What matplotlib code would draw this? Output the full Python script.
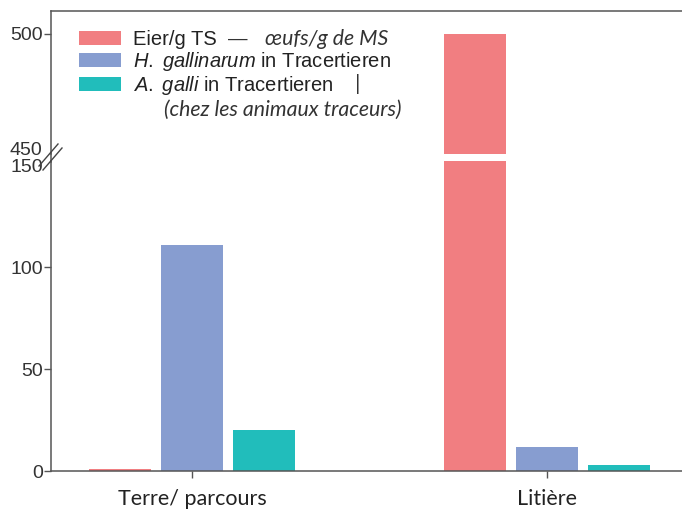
import numpy as np
import matplotlib
matplotlib.use("Agg")
import matplotlib.pyplot as plt
from matplotlib.patches import Patch
from matplotlib.lines import Line2D

plt.rcParams.update({
    "font.family": ["Liberation Sans", "DejaVu Sans"],
    "mathtext.fontset": "custom",
    "mathtext.rm": "Liberation Sans",
    "mathtext.it": "Liberation Sans:italic",
})

# data
categories = ["Terre/ parcours", "Litière"]
eier = [1, 500]
h_gallinarum = [111, 12]
a_galli = [20, 3]
series_labels = ["Eier/g TS",
                 r"$\it{H.\ gallinarum}$ in Tracertieren",
                 r"$\it{A.\ galli}$ in Tracertieren"]
colors = ["#F17E81", "#879DD0", "#21BDBB"]

W, H = 682, 513
fig = plt.figure(figsize=(W / 100, H / 100), dpi=100)


def fx(px):
    return px / W


def fy(py):
    return 1 - py / H


ax_top = fig.add_axes([fx(51), fy(154), 1 - fx(51), fy(11) - fy(154)])
ax_bot = fig.add_axes([fx(51), fy(471), 1 - fx(51), fy(161) - fy(471)])

x = np.arange(len(categories))
w = 0.175
off = 0.203
for ax in (ax_top, ax_bot):
    for i, (vals, c) in enumerate(zip([eier, h_gallinarum, a_galli], colors)):
        ax.bar(x + (i - 1) * off, vals, w, color=c, edgecolor="none")
    ax.set_xlim(-0.399, 1.381)
    for s in ax.spines.values():
        s.set_color("#555555")
        s.set_linewidth(1.1)
    ax.spines["right"].set_visible(False)
    ax.tick_params(axis="y", length=5, width=1, color="#555555", pad=1,
                   labelsize=14, labelcolor="#333333")

ax_top.set_ylim(447.4, 510)
ax_top.set_yticks([450, 500])
ax_top.spines["bottom"].set_visible(False)
ax_top.set_xticks([])
ax_top.yaxis.get_major_ticks()[0].tick1line.set_visible(False)

ax_bot.set_ylim(0, 152)
ax_bot.set_yticks([0, 50, 100, 150])
ax_bot.spines["top"].set_visible(False)
ax_bot.yaxis.get_major_ticks()[-1].tick1line.set_visible(False)
ax_bot.set_xticks(x)
ax_bot.set_xticklabels(categories, family=["Lato", "DejaVu Sans"],
                       fontsize=15.5, color="#222222")
ax_bot.tick_params(axis="x", length=5, width=1, color="#555555", pad=8)

# axis through the break and the break marks
fig.add_artist(Line2D([fx(51), fx(51)], [fy(153), fy(162)], color="#555555", lw=1.1))
for dx in (0, 4):
    fig.add_artist(Line2D([fx(39 + dx), fx(58 + dx)], [fy(166 + dx), fy(144 + dx)],
                          color="#444444", lw=1.0))

handles = [Patch(facecolor=c, edgecolor="none") for c in colors]
ax_top.legend(handles, series_labels, loc="upper left",
              bbox_to_anchor=(fx(79), fy(30)), bbox_transform=fig.transFigure,
              frameon=False, fontsize=14.5, handlelength=2.1, handleheight=0.65,
              handletextpad=0.6, labelspacing=0.05, borderpad=0, borderaxespad=0,
              labelcolor="#222222")

fr = dict(family=["Lato", "DejaVu Sans"], style="italic", fontsize=15.3,
          color="#333333", va="center")
fig.text(fx(228), fy(39), "—", fontsize=14, color="#333333", va="center")
fig.text(fx(265), fy(39), "œufs/g de MS", **fr)
fig.text(fx(355), fy(84), "|", family=["Lato"], fontsize=16, color="#333333",
         va="center")
fig.text(fx(164), fy(110), "(chez les animaux traceurs)", **fr)

fig.savefig("out.png", dpi=100)
